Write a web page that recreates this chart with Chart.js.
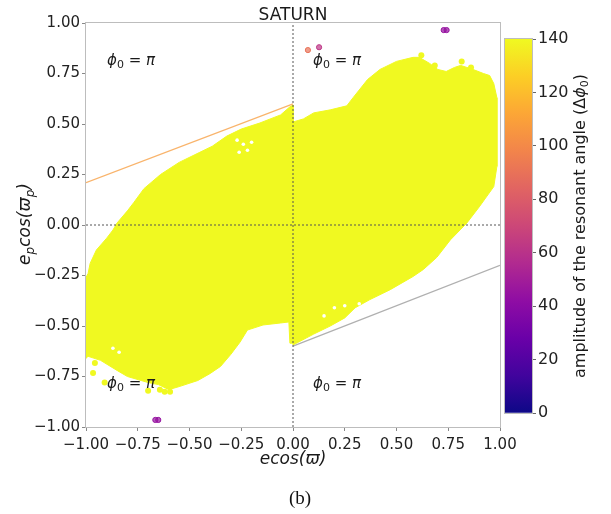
<!DOCTYPE html>
<html>
<head>
<meta charset="utf-8">
<script src="https://cdn.jsdelivr.net/npm/chart.js@4.4.1/dist/chart.umd.min.js"></script>
<style>
    body { margin: 0; background: #fff; }
    #wrap { position: relative; width: 611px; height: 514px; }
    #main { position: absolute; left: 0; top: 0; }
    #cbar { position: absolute; left: 490px; top: 0; }
</style>
</head>
<body>
<div id="wrap">
    <canvas id="main" width="611" height="514"></canvas>
    <canvas id="cbar" width="121" height="514"></canvas>
</div>
<script>
// Outline of the dense yellow region, left of ecos = 0
const leftBlobX = [-1.00, -1.00, -0.99, -0.98, -0.95, -0.90, -0.87, -0.85, -0.80, -0.77, -0.72, -0.64, -0.55, -0.45, -0.39, -0.32, -0.25, -0.16, -0.06, -0.015, 0.00,
    0.00, -0.015, -0.02, -0.06, -0.145, -0.22, -0.256, -0.30, -0.35, -0.40, -0.46, -0.55, -0.60, -0.65, -0.70, -0.80, -0.85, -0.93, -0.99];
const leftBlobY = [-0.66, -0.26, -0.24, -0.19, -0.124, -0.065, -0.025, 0.01, 0.07, 0.11, 0.18, 0.25, 0.31, 0.36, 0.39, 0.44, 0.475, 0.505, 0.545, 0.585, 0.594,
    -0.585, -0.585, -0.48, -0.485, -0.495, -0.52, -0.58, -0.64, -0.70, -0.735, -0.77, -0.80, -0.815, -0.79, -0.78, -0.75, -0.72, -0.67, -0.65];

// Outline of the dense yellow region, right of ecos = 0
const rightBlobX = [0.00, 0.05, 0.10, 0.18, 0.26, 0.29, 0.36, 0.42, 0.50, 0.58, 0.61, 0.66, 0.70, 0.74, 0.78, 0.81, 0.87, 0.92, 0.95, 0.97, 0.985,
    0.985, 0.97, 0.90, 0.84, 0.76, 0.695, 0.63, 0.58, 0.47, 0.37, 0.30, 0.25, 0.18, 0.10, 0.00];
const rightBlobY = [0.51, 0.525, 0.555, 0.57, 0.59, 0.63, 0.72, 0.77, 0.81, 0.83, 0.83, 0.80, 0.77, 0.76, 0.78, 0.79, 0.77, 0.75, 0.74, 0.70, 0.63,
    0.29, 0.19, 0.09, 0.01, -0.074, -0.16, -0.22, -0.255, -0.32, -0.37, -0.41, -0.46, -0.50, -0.54, -0.594];

// Loose points on the ragged edges
const edgeDotX = [0.815, 0.86, 0.89, 0.93, 0.95, 0.62, 0.685, -0.957, -0.966, -0.91, -0.70, -0.643, -0.62, -0.594];
const edgeDotY = [0.81, 0.78, 0.73, 0.72, 0.70, 0.84, 0.79, -0.683, -0.733, -0.78, -0.82, -0.815, -0.826, -0.826];

// Small gaps inside the region
const holeX = [-0.27, -0.24, -0.22, -0.26, -0.20, 0.20, 0.25, 0.32, 0.15, -0.87, -0.84];
const holeY = [0.42, 0.40, 0.37, 0.36, 0.41, -0.41, -0.40, -0.39, -0.45, -0.61, -0.63];

// Isolated orbits with small amplitude
const outlierX = [0.072, 0.126, 0.728, 0.742, -0.665, -0.651];
const outlierY = [0.866, 0.880, 0.965, 0.965, -0.965, -0.965];
const outlierAmp = [90, 62, 45, 45, 45, 45];

// Guide lines
const upperLineX = [-1.0, 0.0];
const upperLineY = [0.21, 0.60];
const lowerLineX = [0.0, 1.0];
const lowerLineY = [-0.60, -0.20];

const axisTicks = [-1, -0.75, -0.5, -0.25, 0, 0.25, 0.5, 0.75, 1];
const ampMin = 0, ampMax = 140, ampStep = 20;
const plasmaStops = ['#0d0887', '#41049d', '#6a00a8', '#8f0da4', '#b12a90', '#cc4778', '#e16462', '#f2844b', '#fca636', '#fcce25', '#f0f921'];

function hexRgb(h) {
    return [parseInt(h.slice(1, 3), 16), parseInt(h.slice(3, 5), 16), parseInt(h.slice(5, 7), 16)];
}
function plasma(t, a) {
    t = Math.max(0, Math.min(1, t));
    const p = t * (plasmaStops.length - 1);
    const i = Math.min(Math.floor(p), plasmaStops.length - 2);
    const f = p - i;
    const c0 = hexRgb(plasmaStops[i]), c1 = hexRgb(plasmaStops[i + 1]);
    const c = c0.map((v, k) => Math.round(v + (c1[k] - v) * f));
    return `rgba(${c[0]},${c[1]},${c[2]},${a === undefined ? 1 : a})`;
}
const pts = (xs, ys) => xs.map((x, i) => ({ x, y: ys[i] }));
const closed = (xs, ys) => pts(xs.concat([xs[0]]), ys.concat([ys[0]]));

Chart.defaults.font.family = "'DejaVu Sans', sans-serif";
Chart.defaults.color = '#222';

const blobColor = plasma(1);

function drawRuns(ctx, runs, x, y, align) {
    let total = 0;
    runs.forEach(r => { ctx.font = r.font; r.w = ctx.measureText(r.t).width; total += r.w; });
    let cx = align === 'left' ? x : x - total / 2;
    ctx.textAlign = 'left';
    ctx.textBaseline = 'alphabetic';
    runs.forEach(r => { ctx.font = r.font; ctx.fillText(r.t, cx, y + (r.dy || 0)); cx += r.w; });
}

const phiRuns = () => [
    { t: 'ϕ', font: "italic 15px 'DejaVu Sans'" },
    { t: '0', font: "11px 'DejaVu Sans'", dy: 3 },
    { t: ' = ', font: "15px 'DejaVu Sans'" },
    { t: 'π', font: "italic 15px 'DejaVu Sans'" }
];

const textPlugin = {
    id: 'texts',
    afterDraw(chart) {
        const ctx = chart.ctx;
        const a = chart.chartArea;
        ctx.save();
        // frame
        ctx.strokeStyle = '#bdbdbd';
        ctx.lineWidth = 1;
        ctx.strokeRect(a.left - 0.5, a.top - 0.5, a.right - a.left + 1, a.bottom - a.top + 1);
        ctx.fillStyle = '#1a1a1a';
        drawRuns(ctx, [{ t: 'SATURN', font: "17px 'DejaVu Sans'" }], 293, 20);
        drawRuns(ctx, phiRuns(), 107, 65, 'left');
        drawRuns(ctx, phiRuns(), 313, 65, 'left');
        drawRuns(ctx, phiRuns(), 107, 388, 'left');
        drawRuns(ctx, phiRuns(), 313, 388, 'left');
        drawRuns(ctx, [
            { t: 'ecos(', font: "italic 17px 'DejaVu Sans'" },
            { t: 'ϖ', font: "italic 17px 'DejaVu Sans'" },
            { t: ')', font: "italic 17px 'DejaVu Sans'" }
        ], 293, 464);
        ctx.translate(30, 224);
        ctx.rotate(-Math.PI / 2);
        drawRuns(ctx, [
            { t: 'e', font: "italic 17px 'DejaVu Sans'" },
            { t: 'p', font: "italic 12px 'DejaVu Sans'", dy: 4 },
            { t: 'cos(ϖ', font: "italic 17px 'DejaVu Sans'" },
            { t: 'p', font: "italic 12px 'DejaVu Sans'", dy: 4 },
            { t: ')', font: "italic 17px 'DejaVu Sans'" }
        ], 0, 0);
        ctx.restore();
        ctx.save();
        ctx.fillStyle = '#111';
        drawRuns(ctx, [{ t: '(b)', font: "19px 'Liberation Serif'" }], 300, 504);
        ctx.restore();
    }
};

const fmt = v => {
    if (Math.abs(v) < 1e-9) return '0.00';
    return v.toFixed(2).replace('-', '\u2212');
};

const axisOpts = (fit, pad) => ({
    type: 'linear',
    min: -1,
    max: 1,
    afterBuildTicks: s => { s.ticks = axisTicks.map(v => ({ value: v })); },
    afterFit: fit,
    ticks: { callback: fmt, font: { size: 15 }, color: '#222', padding: pad, maxRotation: 0, autoSkip: false },
    grid: { drawOnChartArea: false, drawTicks: true, tickLength: 4, color: '#888' },
    border: { display: false }
});

new Chart(document.getElementById('main'), {
    type: 'scatter',
    data: {
        datasets: [
            {
                data: pts(outlierX, outlierY),
                pointRadius: 2.6,
                pointBackgroundColor: outlierAmp.map(v => plasma(v / ampMax, 0.7)),
                pointBorderColor: outlierAmp.map(v => plasma(v / ampMax)),
                pointBorderWidth: 1,
                order: 1
            },
            {
                data: pts([0, 0], [-1, 1]),
                showLine: true, pointRadius: 0,
                borderColor: '#555', borderWidth: 1, borderDash: [2, 2],
                order: 2
            },
            {
                data: pts([-1, 1], [0, 0]),
                showLine: true, pointRadius: 0,
                borderColor: '#555', borderWidth: 1, borderDash: [2, 2],
                order: 2
            },
            {
                data: pts(upperLineX, upperLineY),
                showLine: true, pointRadius: 0,
                borderColor: '#f9b46c', borderWidth: 1.3,
                order: 3
            },
            {
                data: pts(lowerLineX, lowerLineY),
                showLine: true, pointRadius: 0,
                borderColor: '#b0b0b0', borderWidth: 1.3,
                order: 3
            },
            {
                data: pts(holeX, holeY),
                pointRadius: 1.8, pointBorderWidth: 0,
                pointBackgroundColor: '#ffffff',
                order: 4
            },
            {
                data: pts(edgeDotX, edgeDotY),
                pointRadius: 3, pointBorderWidth: 0,
                pointBackgroundColor: blobColor,
                order: 5
            },
            {
                data: closed(leftBlobX, leftBlobY),
                showLine: true, pointRadius: 0,
                borderColor: blobColor, backgroundColor: blobColor, borderWidth: 1,
                fill: 'shape',
                order: 10
            },
            {
                data: closed(rightBlobX, rightBlobY),
                showLine: true, pointRadius: 0,
                borderColor: blobColor, backgroundColor: blobColor, borderWidth: 1,
                fill: 'shape',
                order: 10
            }
        ]
    },
    options: {
        responsive: false,
        animation: false,
        events: [],
        layout: { padding: { left: 0, right: 111, top: 23, bottom: 47 } },
        plugins: { legend: { display: false }, tooltip: { enabled: false } },
        scales: {
            x: axisOpts(s => { s.height = 40; }, 5),
            y: axisOpts(s => { s.width = 86; }, 2)
        }
    },
    plugins: [textPlugin]
});

// Colour bar
const cbarPlugin = {
    id: 'cbarText',
    afterDraw(chart) {
        const ctx = chart.ctx;
        const a = chart.chartArea;
        ctx.save();
        ctx.strokeStyle = '#bdbdbd';
        ctx.lineWidth = 1;
        ctx.strokeRect(a.left - 0.5, a.top - 0.5, a.right - a.left + 1, a.bottom - a.top + 1);
        ctx.fillStyle = '#1a1a1a';
        ctx.translate(95, 226);
        ctx.rotate(-Math.PI / 2);
        drawRuns(ctx, [
            { t: 'amplitude of the resonant angle (\u0394', font: "16px 'DejaVu Sans'" },
            { t: 'ϕ', font: "italic 16px 'DejaVu Sans'" },
            { t: '0', font: "11px 'DejaVu Sans'", dy: 3 },
            { t: ')', font: "16px 'DejaVu Sans'" }
        ], 0, 0);
        ctx.restore();
    }
};

new Chart(document.getElementById('cbar'), {
    type: 'bar',
    data: {
        labels: ['amp'],
        datasets: [{
            data: [ampMax],
            barPercentage: 1,
            categoryPercentage: 1,
            borderWidth: 0,
            backgroundColor: (c) => {
                const area = c.chart.chartArea;
                if (!area) return blobColor;
                const g = c.chart.ctx.createLinearGradient(0, area.bottom, 0, area.top);
                plasmaStops.forEach((col, i) => g.addColorStop(i / (plasmaStops.length - 1), col));
                return g;
            }
        }]
    },
    options: {
        responsive: false,
        animation: false,
        events: [],
        layout: { padding: { left: 15, right: 0, top: 39, bottom: 101 } },
        plugins: { legend: { display: false }, tooltip: { enabled: false } },
        scales: {
            x: { display: false },
            y: {
                position: 'right',
                min: ampMin,
                max: ampMax,
                afterFit: s => { s.width = 79; },
                ticks: { stepSize: ampStep, font: { size: 16 }, color: '#222', padding: 2 },
                grid: { drawOnChartArea: false, drawTicks: true, tickLength: 4, color: '#666' },
                border: { display: false }
            }
        }
    },
    plugins: [cbarPlugin]
});
</script>
</body>
</html>
